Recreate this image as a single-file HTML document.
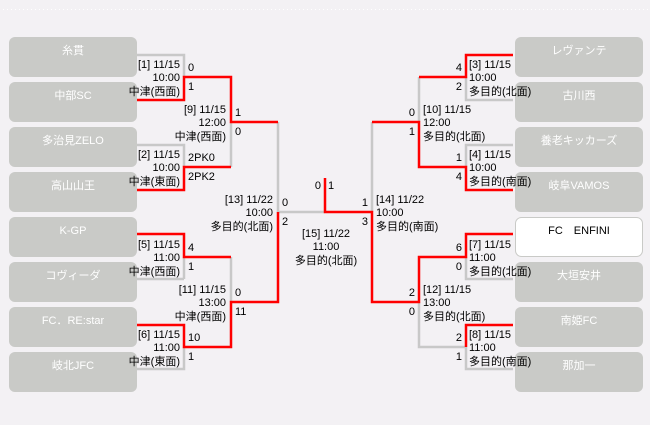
<!DOCTYPE html>
<html><head><meta charset="utf-8"><style>
html,body{margin:0;padding:0;background:#f3f1f4;}
svg{display:block}
text{font-family:"Liberation Sans","Noto Sans CJK JP",sans-serif;font-size:11px;fill:#000}
.t{fill:#fff;font-size:11px}
</style></head><body>
<svg width="650" height="425" viewBox="0 0 650 425" xmlns="http://www.w3.org/2000/svg">
<rect width="650" height="425" fill="#f3f1f4"/>
<line x1="3" y1="9.5" x2="648" y2="9.5" stroke="#ffffff" stroke-width="1" stroke-dasharray="1,3"/>
<g fill="#c9cac7">
<rect x="9" y="37" width="128" height="40" rx="6"/>
<rect x="9" y="82" width="128" height="40" rx="6"/>
<rect x="9" y="127" width="128" height="40" rx="6"/>
<rect x="9" y="172" width="128" height="40" rx="6"/>
<rect x="9" y="217" width="128" height="40" rx="6"/>
<rect x="9" y="262" width="128" height="40" rx="6"/>
<rect x="9" y="307" width="128" height="40" rx="6"/>
<rect x="9" y="352" width="128" height="40" rx="6"/>
<rect x="515" y="37" width="128" height="40" rx="6"/>
<rect x="515" y="82" width="128" height="40" rx="6"/>
<rect x="515" y="127" width="128" height="40" rx="6"/>
<rect x="515" y="172" width="128" height="40" rx="6"/>
<rect x="515" y="262" width="128" height="40" rx="6"/>
<rect x="515" y="307" width="128" height="40" rx="6"/>
<rect x="515" y="352" width="128" height="40" rx="6"/>
</g>
<rect x="515.5" y="217.5" width="127" height="39" rx="6" fill="#fff" stroke="#c9cac7"/>
<g class="t" text-anchor="middle">
<text class="t" x="73" y="54">糸貫</text>
<text class="t" x="73" y="99">中部SC</text>
<text class="t" x="73" y="144">多治見ZELO</text>
<text class="t" x="73" y="189">高山山王</text>
<text class="t" x="73" y="234">K-GP</text>
<text class="t" x="73" y="279">コヴィーダ</text>
<text class="t" x="73" y="324">FC．RE:star</text>
<text class="t" x="73" y="369">岐北JFC</text>
<text class="t" x="579" y="54">レヴァンテ</text>
<text class="t" x="579" y="99">古川西</text>
<text class="t" x="579" y="144">養老キッカーズ</text>
<text class="t" x="579" y="189">岐阜VAMOS</text>
<text x="579" y="234">FC　ENFINI</text>
<text class="t" x="579" y="279">大垣安井</text>
<text class="t" x="579" y="324">南姫FC</text>
<text class="t" x="579" y="369">那加一</text>
</g>
<g fill="none" stroke="#c8c8c8" stroke-width="2.5">
<polyline points="137,55 184,55 184,77"/>
<polyline points="137,145 184,145 184,167"/>
<polyline points="184,279 184,257"/>
<polyline points="137,279 184,279"/>
<polyline points="137,369 184,369 184,347"/>
<polyline points="231,122 231,167"/>
<polyline points="231,257 231,302"/>
<polyline points="278,122 278,212 325,212"/>
<polyline points="513,100 466,100 466,77"/>
<polyline points="513,145 466,145 466,167"/>
<polyline points="513,279 466,279 466,257"/>
<polyline points="513,369 466,369 466,347"/>
<polyline points="419,77 419,122"/>
<polyline points="419,302 419,347 466,347"/>
<polyline points="372,122 372,212"/>
</g>
<g fill="none" stroke="#ff0000" stroke-width="2.5">
<polyline points="137,100 184,100 184,77 231,77 231,122 278,122"/>
<polyline points="137,190 184,190 184,167 231,167"/>
<polyline points="137,234 184,234 184,257 231,257"/>
<polyline points="137,325 184,325 184,347 231,347 231,302 278,302 278,212"/>
<polyline points="325,178 325,212 372,212 372,302 419,302 419,257 466,257 466,234 513,234"/>
<polyline points="466,347 466,325 513,325"/>
<polyline points="513,55 466,55 466,77 419,77"/>
<polyline points="372,122 419,122 419,167 466,167 466,190 513,190"/>
</g>
<g text-anchor="end">
<text x="180" y="68">[1] 11/15</text><text x="180" y="81">10:00</text><text x="180" y="95">中津(西面)</text>
<text x="180" y="158">[2] 11/15</text><text x="180" y="171">10:00</text><text x="180" y="185">中津(東面)</text>
<text x="180" y="248">[5] 11/15</text><text x="180" y="261">11:00</text><text x="180" y="275">中津(西面)</text>
<text x="180" y="338">[6] 11/15</text><text x="180" y="351">11:00</text><text x="180" y="365">中津(東面)</text>
<text x="226" y="113">[9] 11/15</text><text x="226" y="126">12:00</text><text x="226" y="140">中津(西面)</text>
<text x="226" y="293">[11] 11/15</text><text x="226" y="306">13:00</text><text x="226" y="320">中津(西面)</text>
<text x="273" y="203">[13] 11/22</text><text x="273" y="216">10:00</text><text x="273" y="230">多目的(北面)</text>
<text x="462" y="71">4</text><text x="462" y="90">2</text>
<text x="462" y="161">1</text><text x="462" y="180">4</text>
<text x="462" y="251">6</text><text x="462" y="270">0</text>
<text x="462" y="341">2</text><text x="462" y="360">1</text>
<text x="415" y="116">0</text><text x="415" y="135">1</text>
<text x="415" y="296">2</text><text x="415" y="315">0</text>
<text x="368" y="206">1</text><text x="368" y="225">3</text>
<text x="321" y="189">0</text>
</g>
<g>
<text x="188" y="71">0</text><text x="188" y="90">1</text>
<text x="188" y="161">2PK0</text><text x="188" y="180">2PK2</text>
<text x="188" y="251">4</text><text x="188" y="270">1</text>
<text x="188" y="341">10</text><text x="188" y="360">1</text>
<text x="235" y="116">1</text><text x="235" y="135">0</text>
<text x="235" y="296">0</text><text x="235" y="315">11</text>
<text x="282" y="206">0</text><text x="282" y="225">2</text>
<text x="328" y="189">1</text>
<text x="469" y="68">[3] 11/15</text><text x="469" y="81">10:00</text><text x="469" y="95">多目的(北面)</text>
<text x="469" y="158">[4] 11/15</text><text x="469" y="171">10:00</text><text x="469" y="185">多目的(南面)</text>
<text x="469" y="248">[7] 11/15</text><text x="469" y="261">11:00</text><text x="469" y="275">多目的(北面)</text>
<text x="469" y="338">[8] 11/15</text><text x="469" y="351">11:00</text><text x="469" y="365">多目的(南面)</text>
<text x="423" y="113">[10] 11/15</text><text x="423" y="126">12:00</text><text x="423" y="140">多目的(北面)</text>
<text x="423" y="293">[12] 11/15</text><text x="423" y="306">13:00</text><text x="423" y="320">多目的(北面)</text>
<text x="376" y="203">[14] 11/22</text><text x="376" y="216">10:00</text><text x="376" y="230">多目的(南面)</text>
</g>
<g text-anchor="middle">
<text x="326" y="237">[15] 11/22</text><text x="326" y="250">11:00</text><text x="326" y="264">多目的(北面)</text>
</g>
</svg>
</body></html>
